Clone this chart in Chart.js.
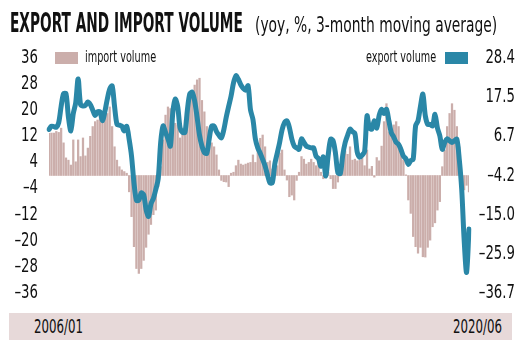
<!DOCTYPE html>
<html>
<head>
<meta charset="utf-8">
<script src="https://cdn.jsdelivr.net/npm/chart.js@4.4.0/dist/chart.umd.min.js"></script>
<style>
  html, body { margin: 0; padding: 0; background: #fff; }
  #wrap { position: relative; width: 528px; height: 353px; overflow: hidden; color: #111;
    font-family: 'DejaVu Sans', sans-serif; }
  #myChart { position: absolute; left: 0; top: 0; }
  .fit { position: absolute; white-space: nowrap; transform-origin: 0 0; line-height: 1; }
  #title { left: 10px; top: 10px; font-size: 26px; font-weight: bold; }
  #subtitle { left: 255px; top: 15px; font-size: 21px; }
  .box { position: absolute; height: 12px; width: 23px; }
  .leg { font-size: 16px; top: 49px; }
  #band { position: absolute; left: 9px; top: 313px; width: 503px; height: 27px; background: #e7d9d9; }
  .xl { font-size: 20px; top: 316px; }
</style>
</head>
<body>
<div id="wrap">
  <canvas id="myChart" width="528" height="353"></canvas>
  <div class="fit" id="title">EXPORT AND IMPORT VOLUME</div>
  <div class="fit" id="subtitle">(yoy, %, 3-month moving average)</div>
  <div class="box" id="impBox" style="left:55px; top:52px;"></div>
  <div class="fit leg" id="impText" style="left:85px;"></div>
  <div class="fit leg" id="expText" style="left:366px;"></div>
  <div class="box" id="expBox" style="left:445px; top:52px;"></div>
  <div id="band"></div>
  <div class="fit xl" id="xFirst" style="left:34px;"></div>
  <div class="fit xl" id="xLast" style="left:453px;"></div>
</div>
<script>
// monthly, 2006/01 .. 2020/06
const months = [];
for (let y = 2006; y <= 2020; y++) {
  for (let m = 1; m <= 12; m++) {
    if (y === 2020 && m > 6) break;
    months.push(y + '/' + String(m).padStart(2, '0'));
  }
}

// import volume, left axis (bars)
const importVolume = [
  12.9, 13, 13, 13.5, 13.2, 14.5, 10, 5.4, 4.7, 3.2, 10.9, 4.2,
  10.9, 5.8, 11.5, 6, 8.4, 12, 15, 16.5, 17, 18, 18, 18.5,
  19, 21, 15, 8.8, 4.7, 2.7, 1.7, 1.2, 0.7, -5, -12.6, -21.8,
  -28.5, -30, -28.5, -26, -22, -18, -15, -12, -10.6, -3.4, 2.7, 10.9,
  18.5, 21, 20.5, 16.5, 16, 15.5, 11.5, 14, 17, 21.5, 24, 25.5,
  27.7, 29.3, 29.8, 23, 19.5, 15, 11.9, 10, 8.8, 6.3, 1.7, -1.5,
  -1.9, -2, -3.4, 0.7, 1, 3, 4.7, 3.5, 3.2, 3.5, 3.8, 4,
  6.3, 4, 9.3, 11.4, 12.4, 8.8, 4, 4.5, 2, 3.5, 3, 6.9,
  7.8, 1.7, -1.4, -6.5, -6, -7.5, -1.5, 1, 5.8, 5, 3.5, 4,
  5, 4, 3, 4.5, 1, -1, 1.5, 1, -1, -4, -4, -2,
  2.7, 6.9, 7.5, 6.5, 8.8, 4.7, 5, 4.5, 4.7, 5.5, 3, 7.8,
  2, 2.8, -0.5, 5.5, 4.5, 9, 16.5, 22, 13.4, 12.5, 15.5, 16.5,
  15, 7.8, 4.7, 0.2, -7.5, -11.6, -18.7, -21.8, -23.8, -22, -24.9, -25,
  -22, -19.8, -15.7, -14.5, -10.6, -8, 2.7, 7.8, 15, 19, 22, 20,
  15, 8.8, -3.4, -4.4, -3, -5
];

// export volume, right axis (line)
const exportVolume = [
  8.6, 9.5, 9.4, 9.2, 10.5, 15, 18.5, 18.5, 12, 8.2, 13, 16,
  22.6, 15.5, 15.1, 15.3, 16.2, 15.5, 14, 12.5, 13.5, 13.5, 11, 13.5,
  17, 19.8, 20.7, 15, 10, 9.8, 9.5, 8.2, 9.5, 5.9, 1.2, -6.2,
  -11, -11, -9, -9.5, -13.6, -15.5, -12, -10.5, -8, -5, 5, 9.6,
  7.8, 6, 4, 13.3, 17, 15, 9, 7.8, 7.8, 14, 18.5, 18.9,
  16.5, 12, 7, 4, 2.2, 2, 6, 9.5, 9.5, 8, 7, 6.3,
  8.5, 12, 15, 17.9, 21.5, 23.5, 22.5, 21, 20, 19.5, 20.7, 14,
  11.4, 6, 3.5, 2, 0.3, -1.5, -4, -6.2, -6.1, -1, 2, 5,
  8.5, 10.5, 11, 9.2, 6, 4, 3.5, 3.1, 6, 5, 4, 3.7,
  3.5, 3.5, 1.2, 0.5, -1.6, 1, -4.3, 1.5, 5.9, 5.5, 2, -3.4,
  -3.6, 1.5, 5, 7, 8.7, 8, 7.5, 2.2, 0.9, 1.5, 2.5, 12.4,
  9, 8.7, 11, 9, 12.5, 14.2, 13, 14.2, 11, 7.7, 6.5, 5,
  4.5, 3, 1.2, 0.5, -1.1, 0, 0.3, 9.6, 11, 15, 18.4, 12.4,
  10, 10, 9.6, 12.8, 9, 6.8, 3.1, 5, 6, 5.5, 5, 5.5,
  5.9, 0.3, -8, -22, -31, -19
];

const leftTicks = [36, 28, 20, 12, 4, -4, -12, -20, -28, -36];
const rightTicks = [28.4, 17.5, 6.7, -4.2, -15.0, -25.9, -36.7];

const importColor = '#cbaeab';
const exportColor = '#2a87a7';

document.getElementById('impBox').style.background = importColor;
document.getElementById('expBox').style.background = exportColor;
document.getElementById('impText').textContent = 'import volume';
document.getElementById('expText').textContent = 'export volume';
document.getElementById('xFirst').textContent = months[0];
document.getElementById('xLast').textContent = months[months.length - 1];

// squeeze text to the condensed widths of the original
function fitWidth(id, w) {
  const el = document.getElementById(id);
  el.style.transform = 'scaleX(' + (w / el.offsetWidth) + ')';
}
fitWidth('title', 233);
fitWidth('subtitle', 242);
fitWidth('impText', 71);
fitWidth('expText', 70);
fitWidth('xFirst', 49);
fitWidth('xLast', 49);

const fmt = (s) => s.replace('-', '–');

// axis labels in a narrow face, placed with the scales
const tickLabels = {
  id: 'tickLabels',
  afterDraw(chart) {
    const ctx = chart.ctx;
    const draw = (text, xRight, y) => {
      ctx.save();
      ctx.translate(xRight, y);
      ctx.scale(0.7, 1);
      ctx.fillText(text, 0, 0);
      ctx.restore();
    };
    ctx.save();
    ctx.fillStyle = '#111';
    ctx.font = '19px "DejaVu Sans", sans-serif';
    ctx.textAlign = 'right';
    ctx.textBaseline = 'middle';
    leftTicks.forEach((v) => draw(fmt(String(v)), 38, chart.scales.y.getPixelForValue(v)));
    rightTicks.forEach((v) => draw(fmt(v.toFixed(1)), 515, chart.scales.y1.getPixelForValue(v)));
    ctx.restore();
  },
};

const context = document.getElementById('myChart').getContext('2d');

const data = {
  labels: months,
  datasets: [
    {
      type: 'line',
      label: 'export volume',
      data: exportVolume,
      yAxisID: 'y1',
      borderColor: exportColor,
      borderWidth: 5,
      pointRadius: 0,
      tension: 0.3,
      borderJoinStyle: 'round',
      borderCapStyle: 'round',
      order: 0,
    },
    {
      type: 'bar',
      label: 'import volume',
      data: importVolume,
      yAxisID: 'y',
      backgroundColor: importColor,
      barThickness: 1.6,
      order: 1,
    },
  ],
};

const config = {
  data,
  plugins: [tickLabels],
  options: {
    animation: false,
    responsive: false,
    layout: { padding: { left: 0, right: 13, top: 58, bottom: 60 } },
    plugins: { legend: { display: false }, tooltip: { enabled: false } },
    scales: {
      x: {
        offset: false,
        display: false,
      },
      y: {
        position: 'left',
        min: -36,
        max: 36,
        grid: { display: false, drawTicks: false },
        border: { display: false },
        ticks: { display: false },
        afterFit: (scale) => { scale.width = 49; },
      },
      y1: {
        position: 'right',
        min: -36.7,
        max: 28.4,
        grid: { display: false, drawTicks: false },
        border: { display: false },
        ticks: { display: false },
        afterFit: (scale) => { scale.width = 46; },
      },
    },
  },
};

const myChart = new Chart(context, config);
</script>
</body>
</html>
